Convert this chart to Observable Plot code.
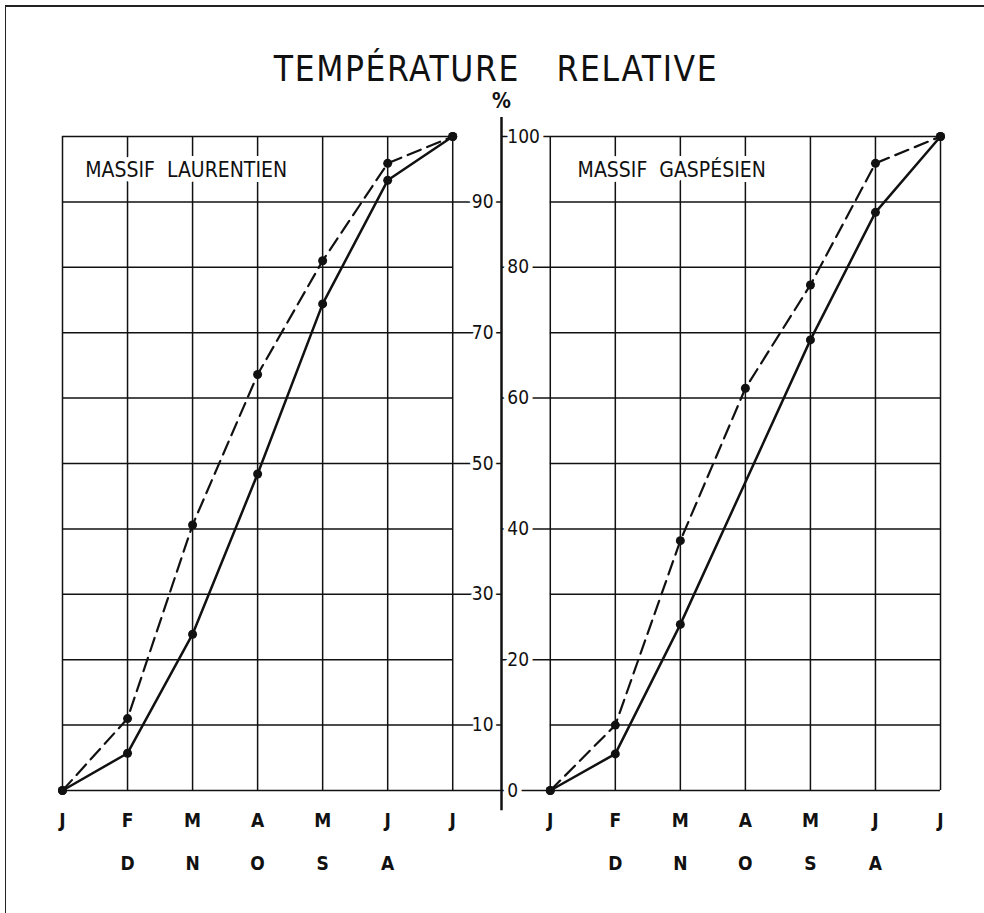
<!DOCTYPE html>
<html><head><meta charset="utf-8">
<script src="https://cdn.jsdelivr.net/npm/d3@7"></script>
<script src="https://cdn.jsdelivr.net/npm/@observablehq/plot@0.6"></script>
<style>
body{margin:0;background:#fff;}
#wrap{position:relative;width:984px;height:913px;overflow:hidden;background:#fff;font-family:"Liberation Sans Narrow","DejaVu Sans Condensed",sans-serif;color:#111;}
#frame{position:absolute;left:5px;top:5px;width:1000px;height:1000px;border-left:1.5px solid #222;border-top:2px solid #222;z-index:2;pointer-events:none;}
#title{position:absolute;left:4px;width:984px;top:50px;text-align:center;font-size:35px;letter-spacing:1.6px;word-spacing:25px;line-height:38px;}
#chart{position:absolute;left:0;top:88px;z-index:1;}
</style></head><body>
<div id="wrap"><div id="title">TEMPÉRATURE RELATIVE</div><div id="chart"></div><div id="frame"></div></div>
<script>
// ---- data ----
const months = ["J","F","M","A","M","J","J"];
const monthsLower = [null,"D","N","O","S","A",null];
const panelNames = ["MASSIF  LAURENTIEN","MASSIF  GASPÉSIEN"];
const laurentienDashed = [0, 11, 40.6, 63.6, 81.0, 95.9, 100];
const laurentienSolid  = [0, 5.7, 23.9, 48.4, 74.4, 93.3, 100];
const gaspesienDashed  = [0, 10.0, 38.2, 61.5, 77.3, 95.9, 100];
const gaspesienSolid   = [0, 5.6, 25.4, null, 68.9, 88.4, 100];
const gridValues = [0,10,20,30,40,50,60,70,80,90,100];
const leftTickLabels = [10,30,50,70,90];
const rightTickLabels = [0,20,40,60,80,100];

// ---- layout constants (month units) ----
const GAP = 7.5;      // x offset of the right panel
const AXIS = 6.75;    // central % axis
const LAST = months.length - 1;

const series = [
  {panel:0, dashed:true,  values:laurentienDashed},
  {panel:0, dashed:false, values:laurentienSolid},
  {panel:1, dashed:true,  values:gaspesienDashed},
  {panel:1, dashed:false, values:gaspesienSolid}
];
const pts = series.flatMap((s,k) => s.values.map((v,i)=>({x:i + s.panel*GAP, y:v, dashed:s.dashed, key:k}))).filter(d=>d.y!=null);

const verticals = [0,1].flatMap(p => months.map((m,i)=> i + p*GAP));
const hsegs = gridValues.flatMap(v => {
  const oddLeft = (v % 20 === 10) || v === 0;
  const evenRight = v % 20 === 0;
  return [
    {y:v, x1:0, x2: oddLeft ? AXIS : LAST},
    {y:v, x1: evenRight ? AXIS : GAP, x2: GAP + LAST}
  ];
});
const monthLabels = [0,1].flatMap(p => months.map((m,i)=>({x:i + p*GAP, t:m})));
const monthLabels2 = [0,1].flatMap(p => monthsLower.map((m,i)=>({x:i + p*GAP, t:m}))).filter(d=>d.t);
const panelLabels = panelNames.map((t,p)=>({x: p*GAP + (p ? 0.42 : 0.35), t}));

const ink = "#111";
const chart = Plot.plot({
  width: 984,
  height: 825,
  marginLeft: 62,
  marginRight: 44,
  marginTop: 48,
  marginBottom: 123,
  x: {domain:[0, GAP + LAST], axis:null},
  y: {domain:[0,100], axis:null},
  style: {fontFamily:'"Liberation Sans Narrow","DejaVu Sans Condensed",sans-serif', background:"transparent", color:ink},
  marks: [
    Plot.ruleX(verticals, {x:d=>d, y1:0, y2:100, stroke:ink, strokeWidth:1.5}),
    Plot.ruleY(hsegs, {y:"y", x1:"x1", x2:"x2", stroke:ink, strokeWidth:1.5}),
    Plot.text(leftTickLabels, {x:()=>6.46, y:d=>d, text:d=>String(d), fontSize:19, fill:ink, stroke:"white", strokeWidth:7, paintOrder:"stroke"}),
    Plot.text(rightTickLabels, {x:()=>6.84, y:d=>d, text:d=>String(d), textAnchor:"start", fontSize:19, fill:ink, stroke:"white", strokeWidth:9, paintOrder:"stroke"}),
    Plot.ruleX([AXIS], {x:d=>d, y1:-3.1, y2:102.9, stroke:ink, strokeWidth:2.5}),
    Plot.text(["%"], {x:()=>AXIS, y:()=>100, dy:-35, text:d=>d, fontSize:21, fontWeight:"bold", fill:ink}),
    Plot.text(panelLabels, {x:"x", y:()=>94.8, text:"t", textAnchor:"start", fontSize:21, fill:ink, stroke:"white", strokeWidth:10, paintOrder:"stroke"}),
    Plot.line(pts.filter(d=>d.dashed), {x:"x", y:"y", z:"key", stroke:ink, strokeWidth:2.2, strokeDasharray:"14,7"}),
    Plot.line(pts.filter(d=>!d.dashed), {x:"x", y:"y", z:"key", stroke:ink, strokeWidth:2.5}),
    Plot.dot(pts, {x:"x", y:"y", r:4.5, fill:ink}),
    Plot.text(monthLabels, {x:"x", y:()=>0, dy:30, text:"t", fontSize:19, fontWeight:"bold", fill:ink}),
    Plot.text(monthLabels2, {x:"x", y:()=>0, dy:73, text:"t", fontSize:19, fontWeight:"bold", fill:ink})
  ]
});
document.getElementById("chart").appendChild(chart);
</script>
</body></html>
